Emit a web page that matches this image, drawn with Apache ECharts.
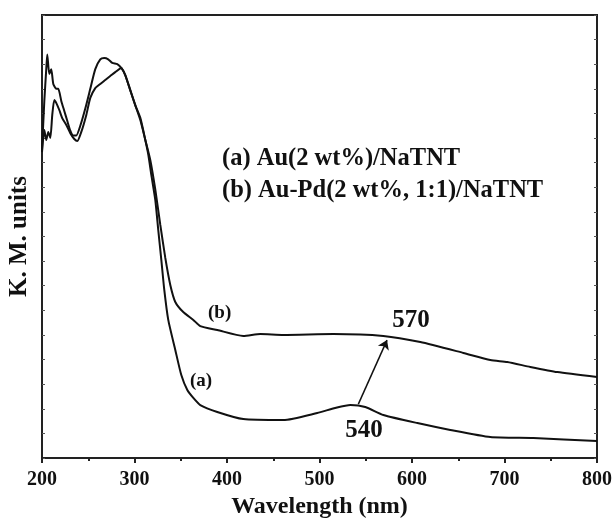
<!DOCTYPE html>
<html>
<head>
<meta charset="utf-8">
<script src="https://cdn.jsdelivr.net/npm/echarts@6/dist/echarts.min.js"></script>
<style>
  html, body { margin: 0; padding: 0; background: #fff; }
  #chart { width: 612px; height: 520px; }
</style>
</head>
<body>
<div id="chart"></div>
<script>
// wavelength (nm) / K.M. value pairs
const wlA = [200, 202.5, 204.6, 206.8, 209, 211.1, 213.3, 215.5, 218.7, 222, 226.3, 230.6, 234.9, 238.2, 242.5, 247.9, 252.2, 257.6, 263, 268.4, 273.8, 279.2, 285.7, 290, 295.4, 300.8, 306.3, 311.7, 315, 318.2, 322.5, 325.7, 329, 332.2, 336.5, 344.1, 350.6, 357.1, 363.6, 371.1, 389.5, 417.6, 460.9, 497.6, 517, 533.3, 549.5, 569, 605.8, 641.4, 684.7, 731.2, 800]
const kmA = [12.43, 13.33, 12.92, 13.25, 13.0, 13.94, 14.55, 14.42, 14.14, 13.8, 13.53, 13.2, 12.96, 12.88, 13.25, 13.94, 14.63, 15.03, 15.2, 15.36, 15.52, 15.68, 15.85, 15.56, 14.95, 14.34, 13.82, 12.92, 12.31, 11.5, 10.48, 9.26, 8.05, 6.83, 5.61, 4.39, 3.37, 2.76, 2.44, 2.15, 1.87, 1.58, 1.54, 1.83, 2.03, 2.15, 2.07, 1.75, 1.42, 1.14, 0.85, 0.81, 0.69]

const wlB = [200, 202.5, 204.6, 205.7, 207.9, 210, 212.2, 215.5, 217.6, 220.9, 224.1, 227.3, 230.6, 233.8, 237, 241.4, 246.8, 252.2, 257.6, 263, 267.3, 271.6, 276, 281.4, 285.7, 290, 295.4, 300.8, 306.3, 311.7, 317.1, 322.5, 327.9, 333.3, 338.7, 344.1, 352.7, 363.6, 371.1, 389.5, 417.6, 436, 460.9, 514.9, 569, 609, 655.5, 684.7, 703, 727.9, 757.1, 800]
const kmB = [12.5, 14.5, 15.8, 16.4, 15.6, 15.8, 15.2, 15.0, 15.0, 14.5, 14.1, 13.7, 13.3, 13.1, 13.1, 13.5, 14.2, 15.0, 15.8, 16.2, 16.25, 16.2, 16.05, 16.0, 15.85, 15.56, 14.95, 14.34, 13.73, 12.92, 12.1, 10.9, 9.47, 8.13, 7.03, 6.34, 5.93, 5.61, 5.36, 5.2, 4.96, 5.04, 5.0, 5.04, 4.96, 4.71, 4.27, 3.98, 3.9, 3.7, 3.49, 3.29]

const xTicks = [200, 300, 400, 500, 600, 700, 800]
const legendLines = ['(a) Au(2 wt%)/NaTNT', '(b) Au-Pd(2 wt%, 1:1)/NaTNT']
// arrow from the 540 nm band to the 570 nm band
const arrowFrom = [542, 2.19]
const arrowTo = [573, 4.79]

const font = "'Liberation Serif', 'Times New Roman', serif"

const chart = echarts.init(document.getElementById('chart'))

const pairs = (xs, ys) => xs.map((x, i) => [x, ys[i]])

const noteLabel = (coord, text, size) => ({
  coord: coord,
  symbolSize: 0,
  label: {
    show: true,
    formatter: text,
    fontFamily: font,
    fontWeight: 'bold',
    fontSize: size,
    color: '#111',
    position: 'inside'
  }
})

chart.setOption({
  animation: false,
  grid: {
    left: 42, right: 15, top: 15, bottom: 62,
    outerBoundsMode: 'none',
    containLabel: false,
    show: true,
    borderColor: '#222',
    borderWidth: 2
  },
  xAxis: {
    type: 'value',
    min: xTicks[0],
    max: xTicks[xTicks.length - 1],
    interval: 100,
    name: 'Wavelength (nm)',
    nameLocation: 'middle',
    nameGap: 36,
    nameTextStyle: { fontFamily: font, fontWeight: 'bold', fontSize: 24, color: '#111' },
    axisLine: { lineStyle: { color: '#222', width: 2 } },
    axisTick: { inside: false, length: 5, lineStyle: { color: '#222', width: 2 } },
    minorTick: { show: true, splitNumber: 2, length: 3, lineStyle: { color: '#222', width: 2 } },
    axisLabel: { fontFamily: font, fontWeight: 'bold', fontSize: 20, color: '#111', margin: 12 },
    splitLine: { show: false }
  },
  yAxis: [{
    type: 'value',
    min: 0,
    max: 18,
    interval: 1,
    name: 'K. M. units',
    nameLocation: 'middle',
    nameGap: 10,
    nameTextStyle: { fontFamily: font, fontWeight: 'bold', fontSize: 25, color: '#111' },
    axisLine: { show: true, lineStyle: { color: '#222', width: 2 } },
    axisTick: { inside: true, length: 3, lineStyle: { color: '#555', width: 1 } },
    axisLabel: { show: false },
    splitLine: { show: false }
  }, {
    type: 'value',
    position: 'right',
    min: 0,
    max: 18,
    interval: 1,
    axisLine: { show: true, lineStyle: { color: '#222', width: 2 } },
    axisTick: { inside: true, length: 3, lineStyle: { color: '#555', width: 1 } },
    axisLabel: { show: false },
    splitLine: { show: false }
  }],
  series: [{
    name: 'a',
    type: 'line',
    data: pairs(wlA, kmA),
    symbol: 'none',
    smooth: 0.2,
    lineStyle: { color: '#111', width: 2 },
    markLine: {
      silent: true,
      symbol: ['none', 'arrow'],
      symbolSize: 9,
      label: { show: false },
      lineStyle: { color: '#111', width: 1.5, type: 'solid' },
      data: [[{ coord: arrowFrom }, { coord: arrowTo }]]
    },
    markPoint: {
      silent: true,
      symbol: 'circle',
      data: [
        noteLabel([372, 3.13], '(a)', 19),
        noteLabel([548, 1.1], '540', 25)
      ]
    }
  }, {
    name: 'b',
    type: 'line',
    data: pairs(wlB, kmB),
    symbol: 'none',
    smooth: 0.2,
    lineStyle: { color: '#111', width: 2 },
    markPoint: {
      silent: true,
      symbol: 'circle',
      data: [
        noteLabel([392, 5.87], '(b)', 19),
        noteLabel([599, 5.6], '570', 25)
      ]
    }
  }],
  graphic: legendLines.map((t, i) => ({
    type: 'text',
    left: 222,
    top: 146 + i * 32,
    style: { text: t, fontFamily: font, fontWeight: 'bold', fontSize: 24.5, fill: '#111' }
  }))
})
</script>
</body>
</html>
